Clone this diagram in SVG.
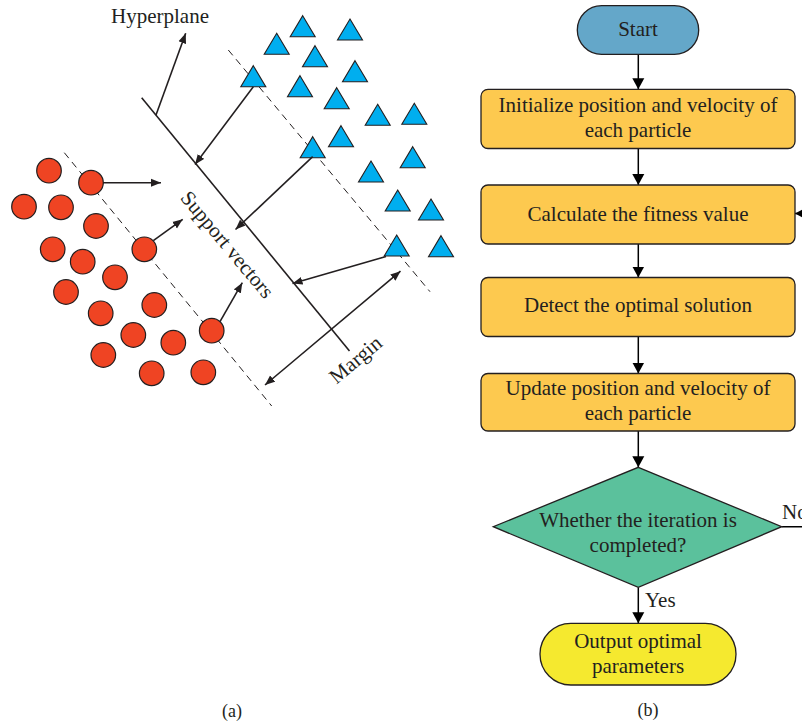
<svg xmlns="http://www.w3.org/2000/svg" xmlns:xlink="http://www.w3.org/1999/xlink" width="802" height="727" viewBox="0 0 802 727">
<style>
  text { font-family: "Liberation Serif", "Times New Roman", serif; fill: #231f20; }
  .lbl { font-size: 21px; }
  .fc { font-size: 21px; text-anchor: middle; }
  .cap { font-size: 18px; text-anchor: middle; }
  .pt { fill: #ef4423; stroke: #231f20; stroke-width: 1.2; }
  .tri { fill: #00aeef; stroke: #231f20; stroke-width: 1.1; }
  .dash { stroke: #231f20; stroke-width: 1; stroke-dasharray: 7 5; fill: none; }
  .ln { stroke: #231f20; stroke-width: 1.6; fill: none; }
  .arr { stroke: #231f20; stroke-width: 1.6; fill: none; marker-end: url(#ah); }
  .fl { stroke: #000; stroke-width: 1.5; fill: none; marker-end: url(#fh); }
  .box { fill: #fdc94f; stroke: #231f20; stroke-width: 1.3; }
</style>
<defs>
  <marker id="ah" markerUnits="userSpaceOnUse" markerWidth="11" markerHeight="9" refX="10" refY="4" orient="auto-start-reverse" viewBox="0 0 11 8">
    <path d="M0,0 L10,4 L0,8 Z" fill="#231f20"/>
  </marker>
  <marker id="fh" markerUnits="userSpaceOnUse" markerWidth="12" markerHeight="13" refX="11" refY="6" orient="auto" viewBox="0 0 12 12">
    <path d="M0,0 L11,6 L0,12 Z" fill="#000"/>
  </marker>
  <path id="tr" d="M0,0 L12.5,21 L-12.5,21 Z"/>
</defs>

<!-- (a) SVM panel -->
<g id="svm-lines">
  <line class="dash" x1="228.3" y1="50" x2="430" y2="291.7"/>
  <line class="dash" x1="64.3" y1="152.7" x2="271.7" y2="406"/>
  <line id="hyperplane" class="ln" x1="141.7" y1="97.7" x2="349.5" y2="351"/>
</g>

<g id="class-circles">
  <circle class="pt" cx="49" cy="170.7" r="12.3"/>
  <circle class="pt" cx="91" cy="182.7" r="12.3"/>
  <circle class="pt" cx="24" cy="206.7" r="12.3"/>
  <circle class="pt" cx="61" cy="207.3" r="12.3"/>
  <circle class="pt" cx="96" cy="226" r="12.3"/>
  <circle class="pt" cx="52.7" cy="249.3" r="12.3"/>
  <circle class="pt" cx="144.3" cy="249.3" r="12.3"/>
  <circle class="pt" cx="82.7" cy="261.7" r="12.3"/>
  <circle class="pt" cx="115" cy="277.3" r="12.3"/>
  <circle class="pt" cx="66" cy="292" r="12.3"/>
  <circle class="pt" cx="100.7" cy="313.3" r="12.3"/>
  <circle class="pt" cx="154.3" cy="305" r="12.3"/>
  <circle class="pt" cx="133.3" cy="335" r="12.3"/>
  <circle class="pt" cx="173.3" cy="342.7" r="12.3"/>
  <circle class="pt" cx="211.7" cy="330.7" r="12.3"/>
  <circle class="pt" cx="103.3" cy="355" r="12.3"/>
  <circle class="pt" cx="151.7" cy="373.3" r="12.3"/>
  <circle class="pt" cx="203.3" cy="372.3" r="12.3"/>
</g>

<g id="class-triangles">
  <use href="#tr" class="tri" x="276.7" y="33.3"/>
  <use href="#tr" class="tri" x="302.7" y="15.7"/>
  <use href="#tr" class="tri" x="350" y="19"/>
  <use href="#tr" class="tri" x="315" y="45.7"/>
  <use href="#tr" class="tri" x="355" y="60.7"/>
  <use href="#tr" class="tri" x="253.3" y="65.7"/>
  <use href="#tr" class="tri" x="300" y="75.7"/>
  <use href="#tr" class="tri" x="336.7" y="87.7"/>
  <use href="#tr" class="tri" x="377.7" y="104.3"/>
  <use href="#tr" class="tri" x="414.3" y="103.3"/>
  <use href="#tr" class="tri" x="341" y="125.7"/>
  <use href="#tr" class="tri" x="312.7" y="136.7"/>
  <use href="#tr" class="tri" x="412.7" y="146.7"/>
  <use href="#tr" class="tri" x="371" y="161"/>
  <use href="#tr" class="tri" x="397.7" y="190"/>
  <use href="#tr" class="tri" x="431" y="199"/>
  <use href="#tr" class="tri" x="396.7" y="235"/>
  <use href="#tr" class="tri" x="441" y="235.7"/>
</g>

<g id="svm-arrows">
  <line class="arr" x1="156" y1="115" x2="185.7" y2="33.3"/>
  <line class="arr" x1="103" y1="182.7" x2="161" y2="182.7"/>
  <line class="arr" x1="153.3" y1="240.7" x2="182.7" y2="219.3"/>
  <line class="arr" x1="220" y1="321.7" x2="242.3" y2="282.7"/>
  <line class="arr" x1="253.3" y1="86.7" x2="195" y2="164.5"/>
  <line class="arr" x1="312.7" y1="156.7" x2="235.5" y2="229.5"/>
  <line class="arr" x1="386" y1="256.5" x2="292.5" y2="283.5"/>
  <line class="arr" x1="265" y1="385" x2="400.5" y2="271.2" style="marker-start:url(#ah)"/>
</g>

<g id="svm-labels">
  <text class="lbl" x="111" y="23">Hyperplane</text>
  <text class="lbl" x="222" y="249" text-anchor="middle" transform="rotate(50 222 249)">Support vectors</text>
  <text class="lbl" x="360" y="365" text-anchor="middle" transform="rotate(-40 360 365)">Margin</text>
  <text class="cap" x="232" y="717">(a)</text>
</g>

<!-- (b) flowchart -->
<g id="connectors">
  <line class="fl" x1="638.3" y1="54.3" x2="638.3" y2="89.3"/>
  <line class="fl" x1="638.3" y1="148.5" x2="638.3" y2="185"/>
  <line class="fl" x1="638.3" y1="244" x2="638.3" y2="277.5"/>
  <line class="fl" x1="638.3" y1="336.5" x2="638.3" y2="373.5"/>
  <line class="fl" x1="638.3" y1="431" x2="638.3" y2="467.3"/>
  <line class="fl" x1="638.3" y1="587.3" x2="638.3" y2="623.3"/>
  <path class="fl" d="M781.7,526.7 H815 V213.5 H795"/>
  <text class="fc" x="645" y="606.7" style="text-anchor:start">Yes</text>
  <text class="fc" x="782" y="518.5" style="text-anchor:start">No</text>
</g>

<g id="start">
  <rect x="577.3" y="5.7" width="121.4" height="48.6" rx="24.3" fill="#64a7c9" stroke="#231f20" stroke-width="1.3"/>
  <text class="fc" x="638" y="35.5">Start</text>
</g>

<g id="init">
  <rect class="box" x="481" y="89.3" width="314" height="59.2" rx="7"/>
  <text class="fc" x="638" y="111.7">Initialize position and velocity of</text>
  <text class="fc" x="638" y="136.7">each particle</text>
</g>

<g id="fitness">
  <rect class="box" x="481" y="185" width="314" height="59" rx="7"/>
  <text class="fc" x="638" y="220.5">Calculate the fitness value</text>
</g>

<g id="detect">
  <rect class="box" x="481" y="277.5" width="314" height="59" rx="7"/>
  <text class="fc" x="638" y="312">Detect the optimal solution</text>
</g>

<g id="update">
  <rect class="box" x="481" y="373.5" width="314" height="57.5" rx="7"/>
  <text class="fc" x="638" y="395">Update position and velocity of</text>
  <text class="fc" x="638" y="419.5">each particle</text>
</g>

<g id="decision">
  <polygon points="638.3,467.3 781.7,526.7 638.3,587.3 493.3,526.7" fill="#5bc19c" stroke="#231f20" stroke-width="1.3"/>
  <text class="fc" x="638" y="527">Whether the iteration is</text>
  <text class="fc" x="638" y="552">completed?</text>
</g>

<g id="output">
  <rect x="540" y="623.3" width="196" height="61.7" rx="30.8" fill="#f5e92f" stroke="#231f20" stroke-width="1.3"/>
  <text class="fc" x="638" y="647.5">Output optimal</text>
  <text class="fc" x="638" y="672.7">parameters</text>
</g>

<text class="cap" x="648" y="716">(b)</text>
</svg>
